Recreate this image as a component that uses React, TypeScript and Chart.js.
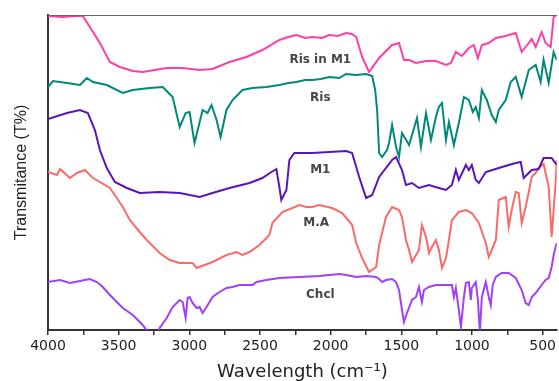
import React, { useEffect, useRef } from "react";
import { Chart, registerables } from "chart.js";

Chart.register(...registerables);

// [wavenumber (cm-1), transmittance (arbitrary offset units)]
const risInM1: [number, number][] = [
  [4000, 314], [3900, 313], [3800, 314], [3753, 314], [3633, 287], [3562, 268], [3492, 263],
  [3400, 259], [3330, 258], [3160, 262], [3047, 262], [2927, 260], [2836, 261], [2716, 268],
  [2596, 273], [2483, 280], [2363, 290], [2300, 293], [2243, 295], [2180, 292], [2130, 293],
  [2060, 292], [2010, 295], [1950, 294], [1890, 297], [1850, 296],
  [1819, 293], [1777, 273], [1728, 258], [1657, 272], [1565, 285], [1516, 287], [1481, 270],
  [1445, 270], [1396, 267], [1325, 269], [1255, 269], [1184, 265], [1149, 267], [1114, 278],
  [1071, 274], [1022, 282], [987, 285], [958, 272], [930, 285], [881, 287], [831, 292],
  [761, 294], [690, 297], [648, 278], [598, 287], [577, 291], [549, 283], [507, 298],
  [479, 287], [443, 283], [422, 313], [400, 315],
];

const ris: [number, number][] = [
  [4000, 243], [3965, 249], [3866, 247], [3774, 245], [3725, 252], [3682, 248], [3584, 245],
  [3471, 237], [3400, 240], [3280, 242], [3188, 243], [3118, 233], [3068, 203], [3026, 217],
  [2998, 218], [2963, 187], [2906, 220], [2871, 217], [2843, 225], [2807, 210], [2779, 193],
  [2737, 220], [2694, 230], [2624, 240], [2553, 242], [2455, 243], [2363, 245], [2300, 247],
  [2243, 248], [2180, 250], [2130, 250], [2070, 251], [2010, 253], [1939, 252], [1890, 256],
  [1820, 255], [1749, 256], [1706, 254], [1685, 240],
  [1671, 220], [1657, 177], [1636, 173], [1601, 180], [1587, 187], [1565, 205], [1537, 183],
  [1516, 173], [1495, 197], [1445, 185], [1389, 212], [1361, 183], [1325, 217], [1290, 190],
  [1255, 213], [1234, 223], [1212, 227], [1184, 190], [1163, 208], [1128, 185], [1093, 207],
  [1057, 233], [1022, 230], [994, 218], [973, 223], [951, 212], [930, 240], [895, 230],
  [860, 215], [831, 208], [810, 220], [761, 230], [726, 248], [690, 253], [648, 233],
  [598, 260], [549, 265], [514, 248], [493, 270], [457, 247], [422, 278], [400, 270],
];

const m1: [number, number][] = [
  [4000, 211], [3866, 217], [3774, 220], [3718, 217], [3668, 200], [3633, 180], [3584, 162],
  [3527, 148], [3442, 142], [3351, 137], [3210, 138], [3068, 137], [2927, 133], [2836, 137],
  [2716, 142], [2574, 147], [2483, 152], [2419, 158], [2384, 161], [2363, 143], [2349, 130],
  [2313, 140], [2292, 170], [2257, 177], [2130, 177], [1890, 179], [1848, 177], [1798, 153],
  [1749, 132], [1706, 135], [1657, 153], [1565, 170], [1537, 173], [1495, 160], [1467, 145],
  [1424, 147], [1375, 142], [1304, 145], [1234, 142], [1184, 140], [1142, 145], [1114, 160],
  [1093, 150], [1043, 165], [1022, 160], [1001, 165], [973, 150], [951, 147], [902, 158],
  [810, 162], [740, 165], [690, 167], [655, 168], [634, 152], [577, 160], [528, 161],
  [493, 172], [436, 172], [400, 165],
];

const ma: [number, number][] = [
  [4000, 158], [3936, 155], [3915, 161], [3845, 152], [3795, 157], [3739, 160], [3682, 152],
  [3633, 148], [3562, 142], [3513, 132], [3471, 123], [3421, 110], [3351, 98], [3301, 90],
  [3280, 87], [3210, 77], [3139, 70], [3068, 67], [2977, 67], [2948, 62], [2836, 68],
  [2737, 75], [2666, 78], [2624, 75], [2574, 78], [2504, 85], [2433, 95], [2412, 107],
  [2342, 118], [2271, 122], [2222, 125], [2172, 123], [2130, 123], [2080, 125], [1989, 122],
  [1918, 117], [1848, 105], [1819, 87], [1777, 72], [1728, 58], [1678, 63], [1657, 85],
  [1608, 113], [1565, 123], [1516, 120], [1495, 113], [1467, 90], [1445, 80], [1424, 68],
  [1375, 80], [1354, 105], [1325, 93], [1304, 77], [1283, 83], [1255, 90], [1234, 80],
  [1212, 62], [1184, 72], [1163, 90], [1142, 110], [1093, 118], [1043, 120], [1001, 117],
  [951, 107], [902, 87], [881, 73], [860, 80], [831, 90], [810, 130], [761, 133],
  [740, 103], [719, 120], [690, 138], [669, 137], [648, 107], [620, 123], [598, 138],
  [577, 153], [549, 157], [528, 162], [493, 166], [457, 143], [436, 93], [408, 147], [400, 170],
];

const chcl: [number, number][] = [
  [4000, 48], [3915, 50], [3845, 47], [3774, 49], [3704, 51], [3654, 48], [3612, 43],
  [3562, 35], [3513, 28], [3471, 22], [3400, 15], [3330, 5], [3301, 0], [3259, -8],
  [3231, -6], [3210, 2], [3160, 12], [3118, 23], [3068, 30], [3047, 28], [3026, 12],
  [3012, 32], [2998, 33], [2977, 27], [2948, 22], [2927, 23], [2906, 17], [2878, 23],
  [2857, 28], [2836, 33], [2786, 38], [2737, 42], [2694, 43], [2645, 45], [2553, 45],
  [2525, 48], [2455, 50], [2363, 52], [2222, 53], [2080, 54], [1939, 56], [1890, 55],
  [1819, 53], [1749, 54], [1678, 53], [1657, 51], [1636, 48], [1608, 50], [1565, 51],
  [1537, 48], [1516, 40], [1495, 20], [1481, 8], [1460, 17], [1424, 30], [1396, 33],
  [1375, 43], [1361, 33], [1354, 28], [1340, 40], [1304, 43], [1255, 45], [1184, 45],
  [1142, 45], [1128, 33], [1114, 42], [1093, 20], [1078, 3], [1057, 33], [1043, 47],
  [1022, 48], [1008, 30], [1001, 42], [973, 48], [958, 30], [944, -2], [930, 33],
  [902, 48], [881, 33], [867, 25], [853, 45], [831, 53], [789, 57], [740, 57], [690, 52],
  [648, 40], [620, 27], [598, 25], [577, 33], [549, 37], [507, 45], [479, 50], [457, 52],
  [436, 63], [422, 75], [400, 87],
];

const seriesNames = ["Ris in M1", "Ris", "M1", "M.A", "Chcl"];
const seriesColors = ["#FF3EA5", "#00897B", "#5A14B8", "#FA6B68", "#A040F8"];
const seriesData = [risInM1, ris, m1, ma, chcl];

// label anchor in data units [wavenumber, value]
const labelAnchors: [number, number][] = [
  [2073, 270], [2073, 232], [2073, 160], [2102, 107], [2073, 35],
];

const xTickValues = [4000, 3750, 3500, 3250, 3000, 2750, 2500, 2250, 2000, 1750, 1500, 1250, 1000, 750, 500];
const xTickLabels = ["4000", "", "3500", "", "3000", "", "2500", "", "2000", "", "1500", "", "1000", "", "500"];

const FONT = "'DejaVu Sans', 'Liberation Sans', sans-serif";
const YFONT = "'Liberation Sans', Arial, sans-serif";

export default function App() {
  const ref = useRef<HTMLCanvasElement | null>(null);

  useEffect(() => {
    if (!ref.current) return;
    const labelPlugin = {
      id: "seriesLabels",
      afterDatasetsDraw(chart: any) {
        const { ctx, scales, chartArea } = chart;
        ctx.save();
        ctx.strokeStyle = "#666";
        ctx.lineWidth = 1;
        ctx.beginPath();
        ctx.moveTo(chartArea.left, chartArea.top + 0.5);
        ctx.lineTo(chartArea.right, chartArea.top + 0.5);
        ctx.stroke();
        ctx.fillStyle = "#474747";
        ctx.font = `bold 12px ${FONT}`;
        ctx.textAlign = "center";
        ctx.textBaseline = "middle";
        seriesNames.forEach((name, i) => {
          const [wn, v] = labelAnchors[i];
          ctx.fillText(name, scales.x.getPixelForValue(wn), scales.y.getPixelForValue(v));
        });
        ctx.restore();
      },
    };

    const chart = new Chart(ref.current, {
      type: "line",
      data: {
        datasets: seriesData.map((d, i) => ({
          label: seriesNames[i],
          data: d.map(([x, y]) => ({ x, y })),
          borderColor: seriesColors[i],
          borderWidth: 2,
          pointRadius: 0,
          tension: 0,
          fill: false,
        })),
      },
      options: {
        responsive: false,
        animation: false,
        layout: { padding: { top: 15, right: 1, left: 0, bottom: 0 } },
        plugins: { legend: { display: false }, tooltip: { enabled: false } },
        scales: {
          x: {
            type: "linear",
            min: 400,
            max: 4000,
            reverse: true,
            afterBuildTicks: (scale: any) => {
              scale.ticks = xTickValues.map((v) => ({ value: v }));
            },
            afterFit: (scale: any) => {
              scale.height = 51;
            },
            ticks: {
              autoSkip: false,
              maxRotation: 0,
              padding: 3,
              color: "#222",
              font: { family: FONT, size: 14 },
              callback: (val: any) => {
                const idx = xTickValues.indexOf(Number(val));
                return idx >= 0 ? xTickLabels[idx] : "";
              },
            },
            grid: { display: true, drawOnChartArea: false, drawTicks: true, tickLength: 5, color: "#333", lineWidth: 1.5 },
            border: { display: true, color: "#333", width: 2 },
            title: {
              display: true,
              text: "Wavelength (cm⁻¹)",
              color: "#222",
              font: { family: FONT, size: 18, lineHeight: 1 },
              padding: { top: 0, bottom: 0 },
            },
          },
          y: {
            type: "linear",
            min: 0,
            max: 315,
            afterFit: (scale: any) => {
              scale.width = 48;
            },
            ticks: { display: false },
            grid: { display: false },
            border: { display: true, color: "#333", width: 2 },
            title: {
              display: true,
              text: "Transmitance (T%)",
              color: "#222",
              font: { family: YFONT, size: 16 },
              padding: { top: 12, bottom: 0 },
            },
          },
        },
      },
      plugins: [labelPlugin],
    });
    return () => chart.destroy();
  }, []);

  return (
    <div style={{ position: "absolute", left: 0, top: 0, width: 559, height: 381, background: "#fff" }}>
      <canvas ref={ref} width={559} height={381} />
    </div>
  );
}
